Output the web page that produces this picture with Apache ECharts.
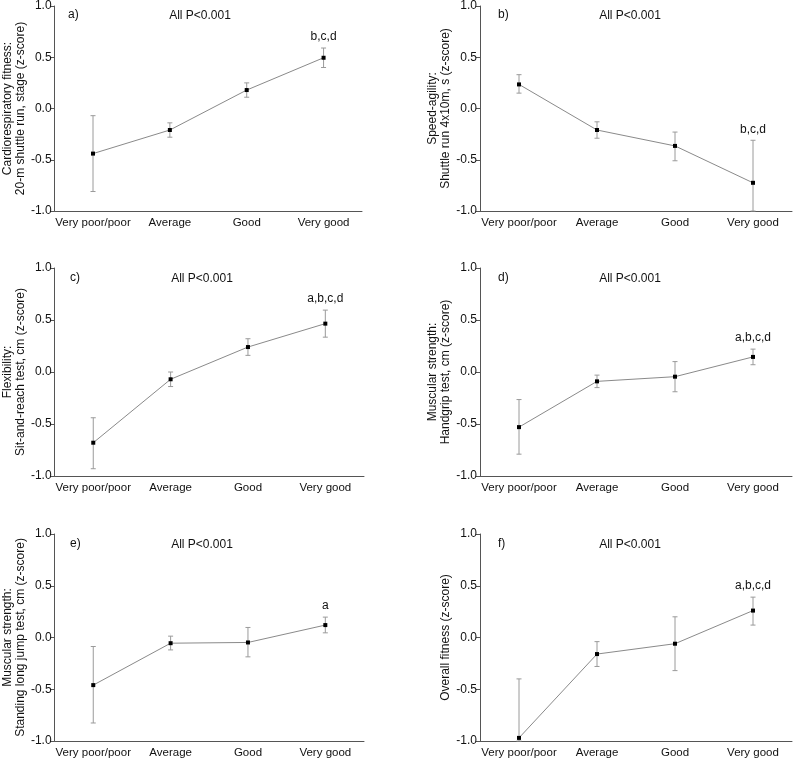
<!DOCTYPE html>
<html>
<head>
<meta charset="utf-8">
<script src="https://cdn.jsdelivr.net/npm/echarts@6/dist/echarts.min.js"></script>
<style>html,body{margin:0;padding:0;background:#fff;}#c{width:793px;height:759px;}</style>
</head>
<body>
<div id="c"></div>
<script>
const categories = ['Very poor/poor', 'Average', 'Good', 'Very good'];
const yTicks = [-1.0, -0.5, 0.0, 0.5, 1.0];
const panelLetters = ['a)', 'b)', 'c)', 'd)', 'e)', 'f)'];
const pValueText = 'All P<0.001';
const yNames = [
  'Cardiorespiratory fitness:\n20-m shuttle run, stage (z-score)',
  'Speed-agility:\nShuttle run 4x10m, s (z-score)',
  'Flexibility:\nSit-and-reach test, cm (z-score)',
  'Muscular strength:\nHandgrip test, cm (z-score)',
  'Muscular strength:\nStanding long jump test, cm (z-score)',
  'Overall fitness (z-score)'
];
const annotations = ['b,c,d', 'b,c,d', 'a,b,c,d', 'a,b,c,d', 'a', 'a,b,c,d'];

// a) Cardiorespiratory fitness
const meanA = [-0.44, -0.21, 0.18, 0.495];
const lowA  = [-0.81, -0.28, 0.11, 0.40];
const highA = [-0.07, -0.14, 0.25, 0.59];
// b) Speed-agility
const meanB = [0.235, -0.21, -0.365, -0.725];
const lowB  = [0.15, -0.29, -0.51, -1.0];
const highB = [0.33, -0.13, -0.23, -0.31];
// c) Flexibility
const meanC = [-0.68, -0.07, 0.24, 0.465];
const lowC  = [-0.93, -0.14, 0.16, 0.335];
const highC = [-0.44, 0.0, 0.32, 0.595];
// d) Handgrip
const meanD = [-0.53, -0.09, -0.045, 0.145];
const lowD  = [-0.79, -0.15, -0.19, 0.07];
const highD = [-0.265, -0.03, 0.10, 0.22];
// e) Standing long jump
const meanE = [-0.46, -0.055, -0.048, 0.12];
const lowE  = [-0.826, -0.12, -0.187, 0.045];
const highE = [-0.087, 0.013, 0.097, 0.197];
// f) Overall fitness
const meanF = [-0.97, -0.16, -0.06, 0.26];
const lowF  = [-1.0, -0.28, -0.32, 0.12];
const highF = [-0.40, -0.04, 0.20, 0.39];

const means = [meanA, meanB, meanC, meanD, meanE, meanF];
const lows = [lowA, lowB, lowC, lowD, lowE, lowF];
const highs = [highA, highB, highC, highD, highE, highF];

const grids = [
  {left: 50, top: 5, width: 312, height: 206},
  {left: 480, top: 5, width: 312, height: 206},
  {left: 52, top: 268, width: 312, height: 208},
  {left: 480, top: 268, width: 312, height: 208},
  {left: 52, top: 534, width: 312, height: 207},
  {left: 480, top: 534, width: 312, height: 207}
];

const FONT = 'Liberation Sans, Arial, sans-serif';
const axisColor = '#555';
const textColor = '#111';

const xAxes = [], yAxes = [], series = [], graphics = [];
grids.forEach((g, i) => {
  xAxes.push({
    type: 'category', gridIndex: i, data: categories, boundaryGap: true,
    axisLine: {onZero: false, lineStyle: {color: axisColor, width: 1}},
    axisTick: {alignWithLabel: true, length: 4, lineStyle: {color: axisColor}},
    axisLabel: {color: textColor, fontSize: 11.5, fontFamily: FONT, margin: 6, interval: 0}
  });
  yAxes.push({
    type: 'value', gridIndex: i, min: -1, max: 1, interval: 0.5,
    splitLine: {show: false},
    axisLine: {show: true, lineStyle: {color: axisColor, width: 1}},
    axisTick: {show: true, length: 4, lineStyle: {color: axisColor}},
    axisLabel: {color: textColor, fontSize: 12, fontFamily: FONT, margin: 3,
      formatter: v => (yTicks.indexOf(v) >= 0 ? v.toFixed(1) : '')},
    name: yNames[i], nameLocation: 'middle', nameRotate: 90, nameGap: 24,
    nameTextStyle: {color: textColor, fontSize: 12, fontFamily: FONT, lineHeight: 13}
  });
  const errData = categories.map((c, k) => [k, lows[i][k], highs[i][k], k === 3 ? annotations[i] : '']);
  series.push({
    type: 'custom', xAxisIndex: i, yAxisIndex: i, data: errData, z: 1,
    encode: {x: 0, y: [1, 2]},
    renderItem: function (params, api) {
      const x = api.value(0);
      const lo = api.coord([x, api.value(1)]);
      const hi = api.coord([x, api.value(2)]);
      const cap = 2.5;
      const style = {stroke: '#9a9a9a', lineWidth: 1};
      const children = [
        {type: 'line', shape: {x1: lo[0], y1: lo[1], x2: hi[0], y2: hi[1]}, style: style},
        {type: 'line', shape: {x1: hi[0] - cap, y1: hi[1], x2: hi[0] + cap, y2: hi[1]}, style: style},
        {type: 'line', shape: {x1: lo[0] - cap, y1: lo[1], x2: lo[0] + cap, y2: lo[1]}, style: style}
      ];
      const ann = api.value(3);
      if (ann) {
        children.push({type: 'text', x: hi[0], y: hi[1] - 11,
          style: {text: ann, fill: textColor, font: '12px ' + FONT, align: 'center', verticalAlign: 'middle'}});
      }
      return {type: 'group', children: children};
    }
  });
  series.push({
    type: 'line', xAxisIndex: i, yAxisIndex: i, data: means[i], z: 3,
    symbol: 'rect', symbolSize: 4, showSymbol: true,
    lineStyle: {color: '#8a8a8a', width: 1},
    itemStyle: {color: '#000'},
    emphasis: {disabled: true}, animation: false
  });
  graphics.push({type: 'text', left: g.left + 18, top: g.top + 4,
    style: {text: panelLetters[i], fill: textColor, font: '12px ' + FONT}});
  graphics.push({type: 'text', x: g.left + 150, y: g.top + 11,
    style: {text: pValueText, fill: textColor, font: '12px ' + FONT, align: 'center', verticalAlign: 'middle'}});
});

const chart = echarts.init(document.getElementById('c'), null, {renderer: 'canvas'});
chart.setOption({
  animation: false,
  backgroundColor: '#fff',
  grid: grids,
  xAxis: xAxes,
  yAxis: yAxes,
  series: series,
  graphic: graphics
});
</script>
</body>
</html>
